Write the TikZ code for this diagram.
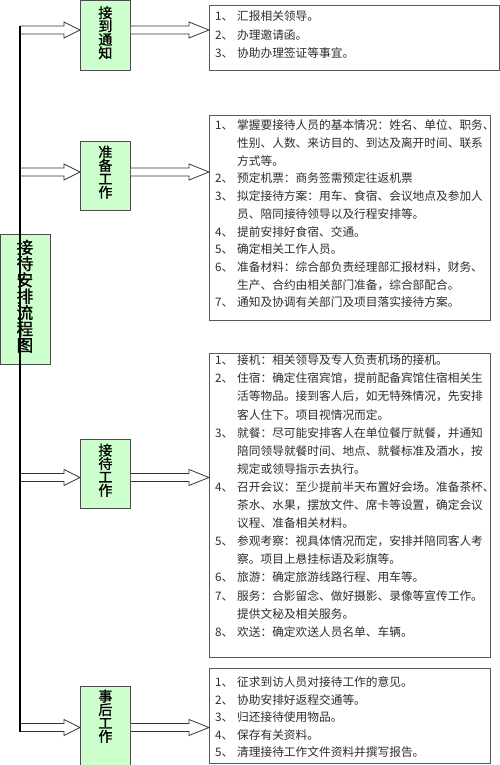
\documentclass[tikz,border=0pt]{standalone}
\usepackage{fontspec}
\newfontfamily\cjk{Noto Sans CJK SC}
\newfontfamily\cjkb[FakeBold=1.2]{Noto Sans CJK SC}
\usetikzlibrary{calc}
\definecolor{gfill}{RGB}{204,255,204}
\definecolor{txt}{RGB}{45,45,45}
\newcommand{\gfont}{\cjkb\fontsize{14}{13.4}\selectfont\lineskiplimit=-20pt\relax}
\newcommand{\mfont}{\cjkb\fontsize{16.5}{16.3}\selectfont\lineskiplimit=-20pt\relax}
\newcommand{\itm}[2]{\makebox[22pt][l]{#1、}#2}
\newcommand{\cnt}[1]{\hspace*{22pt}#1}
\newcommand{\leftarr}[2]{\draw[barrow] let \p1=(#1), \p2=(#2.west) in
  (\x1,\y1+4) -- (\x2-16,\y1+4) -- (\x2-16,\y1+8) -- (\x2,\y1) -- (\x2-16,\y1-8) -- (\x2-16,\y1-4) -- (\x1,\y1-4);}
\newcommand{\rightarr}[3]{\draw[barrow] let \p1=(#2.east), \p2=(#3.west), \p3=(#1) in
  (\x1,\y3+4) -- (\x2-20,\y3+4) -- (\x2-20,\y3+8) -- (\x2,\y3) -- (\x2-20,\y3-8) -- (\x2-20,\y3-4) -- (\x1,\y3-4);}
\begin{document}
\begin{tikzpicture}[x=1pt,y=1pt,
  gbox/.style={draw=black!70, fill=gfill, line width=0.8pt, minimum width=50pt, inner sep=0pt, anchor=north west},
  gtext/.style={font=\gfont, align=center, inner sep=0pt, anchor=north},
  rbox/.style={draw=black!65, line width=1pt, inner sep=0pt, anchor=north west},
  rtext/.style={font=\cjk\fontsize{11.7}{17.7}\selectfont, text=txt, align=left, inner sep=0pt, anchor=north west},
  barrow/.style={draw=black!80, line width=0.8pt, fill=white},
  spine/.style={line width=2pt, draw=black}]
\useasboundingbox (0,0) rectangle (500,-765);

% main box
\node[gbox, minimum height=130pt] (main) at (0,-234) {};
\node[font=\mfont, align=center, anchor=north, inner sep=0pt] (maint)
  at ($(main.north)+(-0.5,-5.5)$) {接\\待\\安\\排\\流\\程\\图};

% arrow centre coordinates on the spine
\coordinate (a1) at (20,-30);
\coordinate (a2) at (20,-172);
\coordinate (a3) at (20,-477.5);
\coordinate (a4) at (20,-727.5);

% green step boxes
\node[gbox, minimum height=70pt] (g1) at (80,0) {};
\node[gtext] (g1t) at ($(g1.north)+(0,-6)$) {接\\到\\通\\知};
\node[gbox, minimum height=69pt] (g2) at (80,-141) {};
\node[gtext] (g2t) at ($(g2.north)+(0,-4.5)$) {准\\备\\工\\作};
\node[gbox, minimum height=69pt] (g3) at (80,-439) {};
\node[gtext] (g3t) at ($(g3.north)+(0,-4.5)$) {接\\待\\工\\作};
\node[gbox, minimum height=80pt] (g4) at (80,-686) {};
\node[gtext] (g4t) at ($(g4.north)+(0,-3.5)$) {事\\后\\工\\作};

% right boxes
\node[rbox, minimum width=290pt, minimum height=65pt] (r1) at (209,-5) {};
\node[rtext, font=\cjk\fontsize{11.7}{18.5}\selectfont] (r1t) at (215,-10.7) {%
\itm{1}{汇报相关领导。}\\
\itm{2}{办理邀请函。}\\
\itm{3}{协助办理签证等事宜。}};

\node[rbox, minimum width=281pt, minimum height=205pt] (r2) at (209,-115) {};
\node[rtext] (r2t) at (215,-119.7) {%
\itm{1}{掌握要接待人员的基本情况：姓名、单位、职务、}\\
\cnt{性别、人数、来访目的、到达及离开时间、联系}\\
\cnt{方式等。}\\
\itm{2}{预定机票：商务签需预定往返机票}\\
\itm{3}{拟定接待方案：用车、食宿、会议地点及参加人}\\
\cnt{员、陪同接待领导以及行程安排等。}\\
\itm{4}{提前安排好食宿、交通。}\\
\itm{5}{确定相关工作人员。}\\
\itm{6}{准备材料：综合部负责经理部汇报材料，财务、}\\
\cnt{生产、合约由相关部门准备，综合部配合。}\\
\itm{7}{通知及协调有关部门及项目落实接待方案。}};

\node[rbox, minimum width=281pt, minimum height=304pt] (r3) at (209,-353) {};
\node[rtext, font=\cjk\fontsize{11.7}{18.1}\selectfont] (r3t) at (215,-354.7) {%
\itm{1}{接机：相关领导及专人负责机场的接机。}\\
\itm{2}{住宿：确定住宿宾馆，提前配备宾馆住宿相关生}\\
\cnt{活等物品。接到客人后，如无特殊情况，先安排}\\
\cnt{客人住下。项目视情况而定。}\\
\itm{3}{就餐：尽可能安排客人在单位餐厅就餐，并通知}\\
\cnt{陪同领导就餐时间、地点、就餐标准及酒水，按}\\
\cnt{规定或领导指示去执行。}\\
\itm{4}{召开会议：至少提前半天布置好会场。准备茶杯、}\\
\cnt{茶水、水果，摆放文件、席卡等设置，确定会议}\\
\cnt{议程、准备相关材料。}\\
\itm{5}{参观考察：视具体情况而定，安排并陪同客人考}\\
\cnt{察。项目上悬挂标语及彩旗等。}\\
\itm{6}{旅游：确定旅游线路行程、用车等。}\\
\itm{7}{服务：合影留念、做好摄影、录像等宣传工作。}\\
\cnt{提供文秘及相关服务。}\\
\itm{8}{欢送：确定欢送人员名单、车辆。}};

\node[rbox, minimum width=281pt, minimum height=95pt] (r4) at (209,-668) {};
\node[rtext, font=\cjk\fontsize{11.7}{17.5}\selectfont] (r4t) at (215,-676.7) {%
\itm{1}{征求到访人员对接待工作的意见。}\\
\itm{2}{协助安排好返程交通等。}\\
\itm{3}{归还接待使用物品。}\\
\itm{4}{保存有关资料。}\\
\itm{5}{清理接待工作文件资料并撰写报告。}};

% block arrows
\leftarr{a1}{g1}
\leftarr{a2}{g2}
\leftarr{a3}{g3}
\leftarr{a4}{g4}
\rightarr{a1}{g1}{r1}
\rightarr{a2}{g2}{r2}
\rightarr{a3}{g3}{r3}
\rightarr{a4}{g4}{r4}

% spine
\draw[spine] ($(a1)+(0,4)$) -- ($(a4)+(0,-4)$);
\end{tikzpicture}
\end{document}
